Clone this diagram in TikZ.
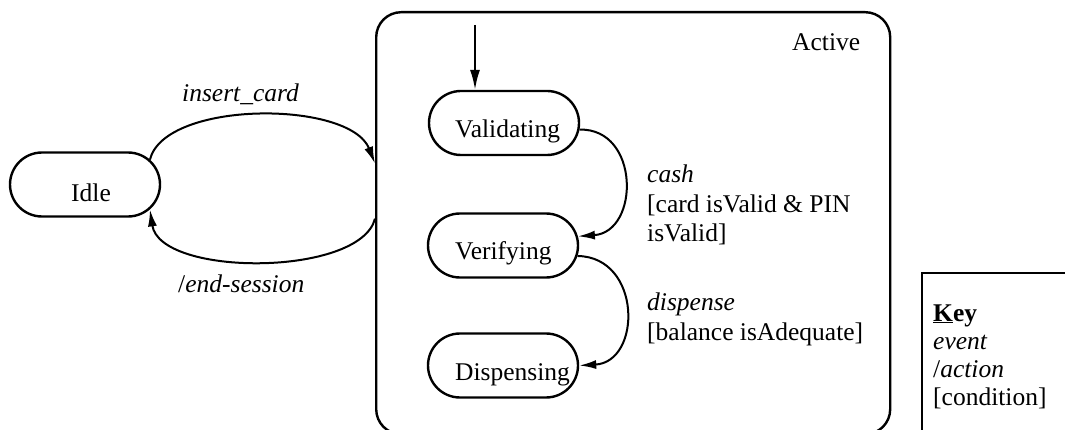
\documentclass[tikz,border=0pt]{standalone}
\usepackage{fontspec}
\setmainfont{Liberation Serif}
\usetikzlibrary{shapes.misc,arrows.meta}
\begin{document}
\begin{tikzpicture}[x=1pt,y=-1pt,
  txt/.style={font=\fontsize{25.5}{29.5}\selectfont, inner sep=0pt, align=left, anchor=base west},
  state/.style={draw, line width=2.4pt, rounded rectangle, minimum width=150pt, minimum height=64pt, inner sep=0pt},
  trans/.style={line width=2pt, -{Latex[length=17pt,width=9pt]}},
]
\useasboundingbox (0,0) rectangle (1065,430);
\clip (0,0) rectangle (1065,430);

% composite state
\node[draw, line width=2.4pt, rounded corners=25pt, minimum width=514pt, minimum height=422pt,
      anchor=north west, inner sep=0pt] (active) at (375,11) {};
\node[txt] (activet) at (792,51) {Active};

% simple states
\node[state] (idle) at (85,184.5) {};
\node[state] (validating) at (504,123) {};
\node[state] (verifying) at (503,245.5) {};
\node[state] (dispensing) at (503,365.5) {};
\node[txt] (idlet) at (71,202) {Idle};
\node[txt] (validatingt) at (455,138) {Validating};
\node[txt] (verifyingt) at (455,260) {Verifying};
\node[txt] (dispensingt) at (455,380) {Dispensing};

% initial transition
\coordinate (init) at (475,25);
\draw[line width=2pt, -{Latex[length=20pt,width=10pt]}] (init) -- (init |- validating.north);

% transitions between Idle and Active
\draw[trans] (idle.21) .. controls (165,100) and (350,100) .. (active.167.3);
\draw[trans] (active.179) .. controls (360,277) and (160,277) .. (idle.-21);
\node[txt] (insertl) at (182,102) {\textit{insert\_card}};
\node[txt] (endl) at (178,293) {/\textit{end-session}};

% transitions inside Active (multi-line labels are placed by their last baseline)
\draw[trans] (validating.-5) .. controls (640,128) and (640,232) .. (verifying.7);
\draw[trans] (verifying.-8) .. controls (642,257) and (642,362) .. (dispensing.east);
\node[txt] (cashl) at (647,242) {\textit{cash}\\{}[card isValid \& PIN\\isValid]};
\node[txt] (dispensel) at (647,340) {\textit{dispense}\\{}[balance isAdequate]};

% key
\node[draw, line width=2pt, anchor=north west, minimum width=200pt, minimum height=200pt, inner sep=0pt] (key) at (921,272) {};
\node[txt, font=\fontsize{25.5}{28}\selectfont] (keyt) at (933,405) {\textbf{\underline{K}ey}\\\textit{event}\\/\textit{action}\\{}[condition]};
\end{tikzpicture}
\end{document}
